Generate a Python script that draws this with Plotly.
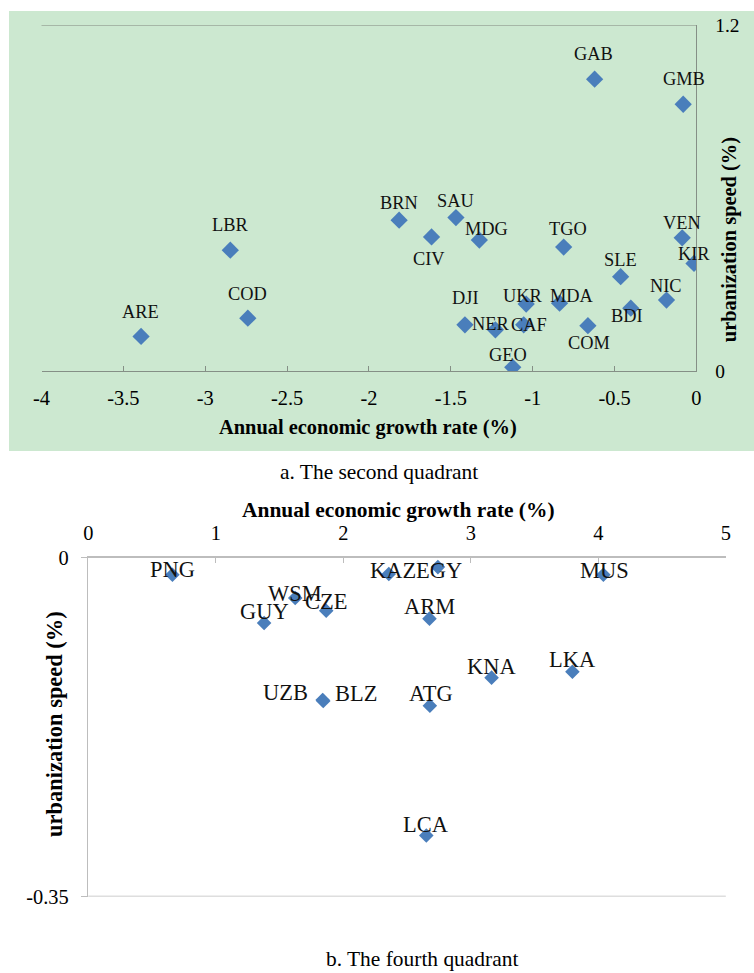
import plotly.graph_objects as go

# ---------------- data ----------------
q2_codes = ["GAB", "GMB", "BRN", "SAU", "CIV", "MDG", "TGO", "VEN", "KIR", "SLE", "NIC",
            "BDI", "UKR", "MDA", "DJI", "NER", "CAF", "COM", "GEO", "LBR", "COD", "ARE"]
q2_growth = [-0.622, -0.081, -1.816, -1.469, -1.618, -1.326, -0.811, -0.087, -0.015, -0.463, -0.183,
             -0.401, -1.040, -0.836, -1.414, -1.228, -1.055, -0.663, -1.122, -2.847, -2.740, -3.392]
q2_urban = [1.013, 0.926, 0.524, 0.533, 0.466, 0.455, 0.431, 0.463, 0.374, 0.328, 0.247,
            0.219, 0.233, 0.236, 0.161, 0.144, 0.161, 0.158, 0.014, 0.420, 0.184, 0.121]

q4_codes = ["PNG", "WSM", "CZE", "GUY", "UZB", "BLZ", "KAZ", "EGY", "MUS", "ARM", "KNA", "LKA", "ATG", "LCA"]
q4_growth = [0.660, 1.623, 1.866, 1.379, 1.838, 1.843, 2.357, 2.742, 4.040, 2.676, 3.163, 3.797, 2.679, 2.651]
q4_urban = [-0.0178, -0.0418, -0.0549, -0.0676, -0.147, -0.148, -0.0171, -0.0099, -0.0178, -0.0631,
            -0.124, -0.118, -0.153, -0.287]

q2_xticks = [-4, -3.5, -3, -2.5, -2, -1.5, -1, -0.5, 0]
q2_xticktext = ["-4", "-3.5", "-3", "-2.5", "-2", "-1.5", "-1", "-0.5", "0"]
q2_yticks = [0, 1.2]
q2_yticktext = ["0", "1.2"]
q4_xticks = [0, 1, 2, 3, 4, 5]
q4_xticktext = ["0", "1", "2", "3", "4", "5"]
q4_yticks = [0, -0.35]
q4_yticktext = ["0", "-0.35"]

x_title = "Annual economic growth rate (%)"
y_title = "urbanization speed (%)"
caption_a = "a. The second quadrant"
caption_b = "b. The fourth quadrant"

# ---------------- label offsets (pixels, dx right, dy up) ----------------
q2_label_dx = [-1, 1, 0, 0, -2, 7, 4, 0, 0, 0, 0, -4, -3, 12, 1, -5, 5, 1, -5, 0, 0, -1]
q2_label_dy = [25, 25, 17, 16, -22, 11, 18, 14, 9, 16, 14, -8, 8, 7, 26, 6, 0, -17, 12, 25, 24, 24]
q4_label_dx = [0, 0, 0, 0, -36, 32, 4, 1, 1, 0, 0, 0, 1, 0]
q4_label_dy = [5, 4, 9, 11, 7, 7, 4, -3, 4, 12, 11, 12, 12, 11]

# ---------------- styling ----------------
W, H = 754, 973
# the viewer shows the page slightly reduced about its centre; compensate
S = 0.98
OX, OY = W * (1 - S) / 2, H * (1 - S) / 2
FONT = "Liberation Serif"
MARKER_COLOR = "#4A7EBB"
GREEN = "#CCE8D0"
TOP_AXIS = "#858F86"
BOT_AXIS = "#BDBDBD"


def px_x(p):
    return ((p - OX) / S) / W


def px_y(p):
    return 1 - ((p - OY) / S) / H


def sz(v):
    return round(v / S, 2)


fig = go.Figure()

fig.add_trace(go.Scatter(
    x=q2_growth, y=q2_urban, mode="markers",
    marker=dict(symbol="diamond", size=sz(13), color=MARKER_COLOR, line=dict(width=0)),
    xaxis="x", yaxis="y", hoverinfo="skip", showlegend=False,
))
fig.add_trace(go.Scatter(
    x=q4_growth, y=q4_urban, mode="markers",
    marker=dict(symbol="diamond", size=sz(11), color=MARKER_COLOR, line=dict(width=0)),
    xaxis="x2", yaxis="y2", hoverinfo="skip", showlegend=False,
))

annotations = []
for c, xv, yv, dx, dy in zip(q2_codes, q2_growth, q2_urban, q2_label_dx, q2_label_dy):
    annotations.append(dict(x=xv, y=yv, xref="x", yref="y", text=c, showarrow=False,
                            xshift=sz(dx), yshift=sz(dy), xanchor="center", yanchor="middle",
                            font=dict(family=FONT, size=sz(18), color="#111111")))
for c, xv, yv, dx, dy in zip(q4_codes, q4_growth, q4_urban, q4_label_dx, q4_label_dy):
    annotations.append(dict(x=xv, y=yv, xref="x2", yref="y2", text=c, showarrow=False,
                            xshift=sz(dx), yshift=sz(dy), xanchor="center", yanchor="middle",
                            font=dict(family=FONT, size=sz(22), color="#111111")))

# axis titles and captions
annotations += [
    dict(x=px_x(366), y=px_y(427), xref="paper", yref="paper", text="<b>" + x_title + "</b>",
         showarrow=False, xanchor="center", yanchor="middle", font=dict(family=FONT, size=sz(20), color="black")),
    dict(x=px_x(727), y=px_y(239), xref="paper", yref="paper", text="<b>" + y_title + "</b>",
         showarrow=False, textangle=-90, xanchor="center", yanchor="middle",
         font=dict(family=FONT, size=sz(20), color="black")),
    dict(x=px_x(377), y=px_y(472), xref="paper", yref="paper", text=caption_a,
         showarrow=False, xanchor="center", yanchor="middle", font=dict(family=FONT, size=sz(21), color="black")),
    dict(x=px_x(396), y=px_y(510), xref="paper", yref="paper", text="<b>" + x_title + "</b>",
         showarrow=False, xanchor="center", yanchor="middle", font=dict(family=FONT, size=sz(21), color="black")),
    dict(x=px_x(53), y=px_y(725), xref="paper", yref="paper", text="<b>" + y_title + "</b>",
         showarrow=False, textangle=-90, xanchor="center", yanchor="middle",
         font=dict(family=FONT, size=sz(22), color="black")),
    dict(x=px_x(420), y=px_y(960), xref="paper", yref="paper", text=caption_b,
         showarrow=False, xanchor="center", yanchor="middle", font=dict(family=FONT, size=sz(21), color="black")),
]

shapes = [
    dict(type="rect", xref="paper", yref="paper", x0=0, x1=px_x(752), y0=px_y(451), y1=1,
         fillcolor=GREEN, line=dict(width=0), layer="below"),
    # top border line (major gridline at the axis maximum)
    dict(type="line", xref="x domain", yref="y", x0=0, x1=1, y0=q2_yticks[-1], y1=q2_yticks[-1],
         line=dict(color=TOP_AXIS, width=1), layer="below"),
    # bottom gridline at the axis minimum
    dict(type="line", xref="x2 domain", yref="y2", x0=0, x1=1, y0=q4_yticks[-1], y1=q4_yticks[-1],
         line=dict(color=BOT_AXIS, width=1.5), layer="below"),
]

fig.update_layout(
    width=W, height=H,
    margin=dict(l=0, r=0, t=0, b=0),
    paper_bgcolor="white",
    plot_bgcolor="rgba(0,0,0,0)",
    showlegend=False,
    shapes=shapes,
    annotations=annotations,
    xaxis=dict(
        domain=[px_x(40), px_x(694)], range=[-4, 0], anchor="y",
        tickmode="array", tickvals=q2_xticks, ticktext=q2_xticktext,
        ticks="inside", ticklen=5, tickcolor=TOP_AXIS, tickwidth=1,
        showline=True, linecolor=TOP_AXIS, linewidth=1,
        showgrid=False, zeroline=False, ticklabelstandoff=8,
        tickfont=dict(family=FONT, size=sz(20), color="black"),
    ),
    yaxis=dict(
        domain=[px_y(371), px_y(24)], range=[0, 1.2], anchor="x", side="right",
        tickmode="array", tickvals=q2_yticks, ticktext=q2_yticktext,
        ticks="", showline=True, linecolor=TOP_AXIS, linewidth=1,
        showgrid=False, zeroline=False, ticklabelstandoff=14,
        tickfont=dict(family=FONT, size=sz(19), color="black"),
    ),
    xaxis2=dict(
        domain=[px_x(86.7), px_x(723.3)], range=[0, 5], anchor="y2", side="top",
        tickmode="array", tickvals=q4_xticks, ticktext=q4_xticktext,
        ticks="inside", ticklen=5, tickcolor=BOT_AXIS, tickwidth=1,
        showline=True, linecolor=BOT_AXIS, linewidth=1.5,
        showgrid=False, zeroline=False, ticklabelstandoff=8,
        tickfont=dict(family=FONT, size=sz(20), color="black"),
    ),
    yaxis2=dict(
        domain=[px_y(897.7), px_y(557.7)], range=[-0.35, 0], anchor="x2",
        tickmode="array", tickvals=q4_yticks, ticktext=q4_yticktext,
        ticks="outside", ticklen=6, tickcolor=BOT_AXIS, tickwidth=1.5,
        showline=True, linecolor=BOT_AXIS, linewidth=1.5,
        showgrid=False, zeroline=False, ticklabelstandoff=8,
        tickfont=dict(family=FONT, size=sz(20), color="black"),
    ),
)

fig.write_html(
    "out.html",
    config={"displayModeBar": False, "staticPlot": True},
    post_script="document.body.style.margin='0px';document.body.style.padding='0px';",
)
